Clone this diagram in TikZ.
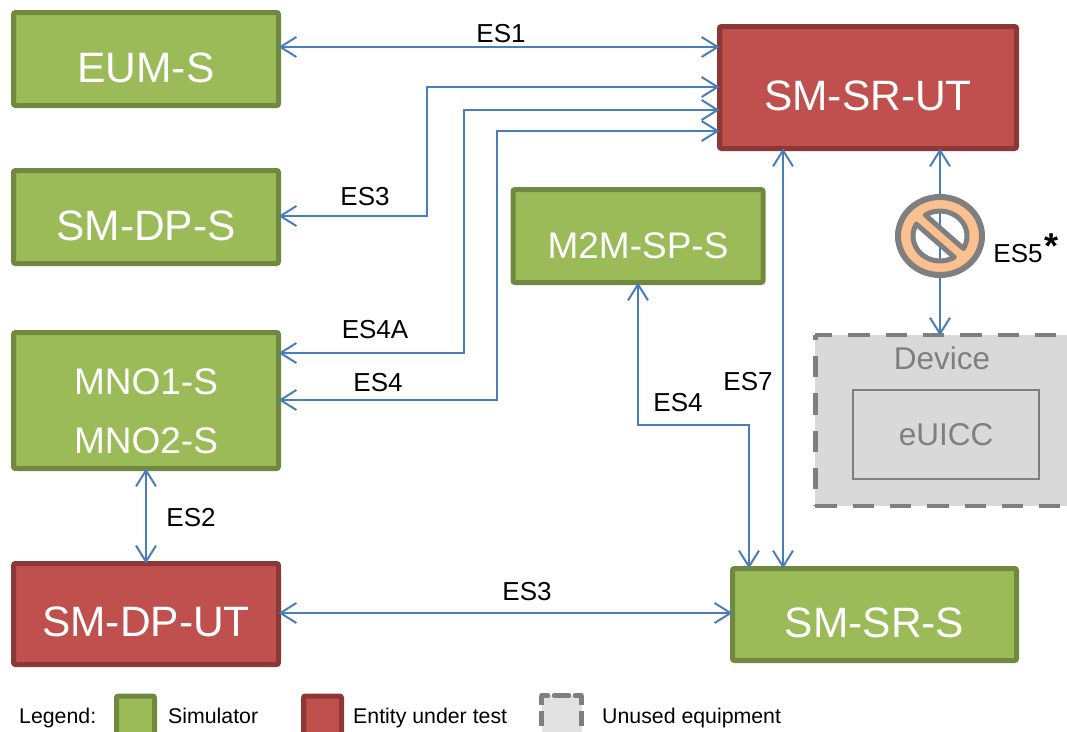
\documentclass[tikz,border=0pt]{standalone}
\usepackage{fontspec}
\setmainfont{Liberation Sans}
\usetikzlibrary{arrows.meta}
\definecolor{gfill}{HTML}{9BBB59}
\definecolor{gline}{HTML}{71893F}
\definecolor{rfill}{HTML}{C0504D}
\definecolor{rline}{HTML}{8C3836}
\definecolor{link}{HTML}{4A7EBB}
\definecolor{dfill}{HTML}{D9D9D9}
\definecolor{dline}{HTML}{7F7F7F}
\definecolor{nofill}{HTML}{FAC090}
\newcommand{\fsz}[1]{\fontsize{#1}{#1}\selectfont}
\newcommand{\tall}[1]{\rule{0pt}{#1pt}}
\tikzset{
  x=1pt,y=-1pt,
  box/.style={draw,line width=5pt,rounded corners=2pt,inner sep=0pt,text=white,align=center},
  sim/.style={box,fill=gfill,draw=gline},
  sut/.style={box,fill=rfill,draw=rline},
  big/.style={font=\fsz{42.5}},
  mid/.style={font=\fsz{37}},
  conn/.style={draw=link,line width=2.2pt,shorten >=-2.5pt,shorten <=-2.5pt,{Straight Barb[length=16pt,width=20pt,line width=2pt]}-{Straight Barb[length=16pt,width=20pt,line width=2pt]}},
  lab/.style={font=\fsz{26},text=black,inner sep=0pt},
  leg/.style={font=\fsz{21.3},text=black,inner sep=0pt,anchor=base west},
  bigdash/.style={draw=dline,line width=4.5pt,dash pattern=on 21.3pt off 16pt},
  smalldash/.style={draw=dline,line width=4.5pt,dash pattern=on 15pt off 6pt},
}
\begin{document}
\begin{tikzpicture}
\useasboundingbox (0,0) rectangle (1067,731);
\clip (0,0) rectangle (1067,731);
% simulators and entities
\node[sim,big,minimum width=265pt,minimum height=93pt] (eum) at (146,59) {\tall{48}EUM-S};
\node[sim,big,minimum width=265pt,minimum height=93pt] (dps) at (146,217) {\tall{48}SM-DP-S};
\node[sim,minimum width=265pt,minimum height=136pt,font=\fontsize{37}{59}\selectfont] (mno) at (146,400.5) {\tall{46.5}MNO1-S\\MNO2-S};
\node[sut,big,minimum width=265pt,minimum height=101pt] (dput) at (146,614) {\tall{46}SM-DP-UT};
\node[sut,big,minimum width=297pt,minimum height=122pt] (srut) at (868,87.5) {\tall{46}SM-SR-UT};
\node[sim,mid,minimum width=250pt,minimum height=93pt] (m2m) at (638,236) {\tall{44.5}M2M-SP-S};
\node[sim,big,minimum width=284pt,minimum height=92pt] (srs) at (874.5,614.5) {\tall{46}SM-SR-S};
% device
\node[fill=dfill,minimum width=260pt,minimum height=171pt,inner sep=0pt,outer sep=0pt] (dev) at (945.3,420.6) {};
\draw[bigdash,dash phase=4.3pt] (dev.north west) -- (dev.north east);
\draw[bigdash,dash phase=16.3pt] (dev.north west) -- (dev.south west);
\draw[bigdash] (dev.south west) -- (dev.south east);
\node[font=\fsz{31.5},text=dline,inner sep=0pt] (devl) at (942,358) {Device};
\node[draw=dline,fill=dfill,line width=2pt,minimum width=185.5pt,minimum height=89.5pt,inner sep=0pt,font=\fsz{31.5},text=dline] (euicc) at (946,434.7) {eUICC};
% connectors
\draw[conn] ([yshift=12pt]eum.east) -- ([yshift=40.5pt]srut.west);
\draw[conn] ([yshift=1pt]dps.east) -- (427,216) -- (427,87) -- ([yshift=0.5pt]srut.west);
\draw[conn] ([yshift=47.5pt]mno.east) -- (464,353) -- (464,110) -- ([yshift=-22.5pt]srut.west);
\draw[conn] ([yshift=0.5pt]mno.east) -- (497,400) -- (497,131) -- ([yshift=-43.5pt]srut.west);
\draw[conn] (mno.south) -- (dput.north);
\draw[conn] ([yshift=1pt]dput.east) -- ([yshift=1.5pt]srs.west);
\draw[conn] (srs.north -| 783,0) -- (srut.south -| 783,0);
\draw[conn] (m2m.south) -- (m2m.south |- 749,425) -- (749,425) -- (srs.north -| 749,0);
% ES5 with the prohibition sign
\draw[conn] (srut.south -| 940,0) -- ([yshift=2pt]dev.north -| 940,0);
\coordinate (no) at (940,236);
\begin{scope}[y=1pt]
\fill[nofill,even odd rule] (no) ellipse [x radius=42,y radius=39]
  (no) ++(123:27 and 25) arc [start angle=123,end angle=-30,x radius=27,y radius=25] -- cycle
  (no) ++(151.6:27 and 25) arc [start angle=151.6,end angle=302,x radius=27,y radius=25] -- cycle;
\draw[dline,line width=6pt] (no) ellipse [x radius=42,y radius=39];
\draw[dline,line width=5pt,line join=round] (no) ++(123:27 and 25) arc [start angle=123,end angle=-30,x radius=27,y radius=25] -- cycle;
\draw[dline,line width=5pt,line join=round] (no) ++(151.6:27 and 25) arc [start angle=151.6,end angle=302,x radius=27,y radius=25] -- cycle;
\end{scope}
% labels
\node[lab] (l1) at (501,34) {ES1};
\node[lab] (l2) at (365,197) {ES3};
\node[lab] (l3) at (375,330) {ES4A};
\node[lab] (l4) at (378,383) {ES4};
\node[lab] (l5) at (191,518) {ES2};
\node[lab] (l6) at (527,592) {ES3};
\node[lab] (l7) at (678,403) {ES4};
\node[lab] (l8) at (748,382) {ES7};
\node[lab] (l9) at (1018,254) {ES5};
\node[font=\fsz{36}\bfseries,inner sep=0pt] (l10) at (1051,246) {*};
% legend
\node[leg] (lg) at (19,723) {Legend:};
\node[sim,minimum width=38pt,minimum height=48pt] (k1) at (135.5,720) {};
\node[leg] (k1t) at (168,723) {Simulator};
\node[sut,minimum width=38pt,minimum height=48pt] (k2) at (322.5,720) {};
\node[leg] (k2t) at (353,723) {Entity under test};
\node[fill=dfill!75!white,minimum width=40pt,minimum height=50pt,inner sep=0pt,outer sep=0pt] (k3) at (561.5,720.5) {};
\draw[smalldash,dash phase=8.5pt,line cap=round] (k3.north west) -- (k3.north east);
\draw[smalldash,dash phase=5.5pt] (k3.north west) -- (k3.south west);
\draw[smalldash,dash phase=5.5pt] (k3.north east) -- (k3.south east);
\node[leg] (k3t) at (602,723) {Unused equipment};
\end{tikzpicture}
\end{document}
